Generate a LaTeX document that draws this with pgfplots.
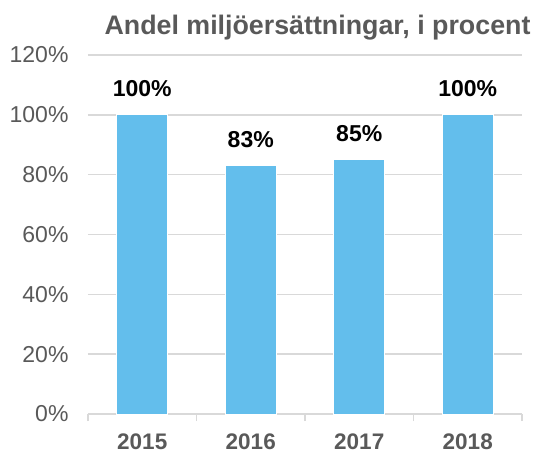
\documentclass[border=0pt]{standalone}
\usepackage{fontspec}
\setmainfont{Liberation Sans}
\usepackage{pgfplots}
\pgfplotsset{compat=1.18}
\definecolor{barblue}{RGB}{99,190,236}
\definecolor{txtgray}{RGB}{89,89,89}
\definecolor{gridgray}{RGB}{217,217,217}
\begin{document}
\begin{tikzpicture}[x=1pt,y=1pt]
\path[use as bounding box] (0,0) rectangle (535,456);
\node[font=\fontsize{26.8}{30}\selectfont\bfseries, text=txtgray] at (317.5,428) {Andel miljöersättningar, i procent};
\begin{axis}[
  at={(88pt,42pt)}, anchor=south west,
  scale only axis, width=434pt, height=359pt,
  xmin=-0.5, xmax=3.5, ymin=0, ymax=120,
  axis x line*=bottom, axis y line*=left,
  y axis line style={draw=none},
  x axis line style={draw=gridgray, line width=1.5pt},
  xtick={0,1,2,3}, xticklabels={2015,2016,2017,2018},
  minor xtick={-0.5,0.5,1.5,2.5,3.5},
  major tick length=0pt,
  minor tick length=7pt,
  tick align=outside,
  minor tick style={draw=gridgray, line width=1.5pt},
  ytick={0,20,...,120},
  yticklabel={\pgfmathprintnumber{\tick}\%},
  ytick style={draw=none},
  ymajorgrids, grid style={draw=gridgray, line width=1.5pt},
  yticklabel style={font=\fontsize{23}{26}\selectfont, text=txtgray, xshift=-16pt},
  xticklabel style={font=\fontsize{22.5}{26}\selectfont\bfseries, text=txtgray, yshift=-16pt},
  /pgf/number format/assume math mode=true,
  ybar, bar width=51pt,
  nodes near coords={\pgfmathprintnumber{\pgfplotspointmeta}\%},
  nodes near coords style={font=\fontsize{23}{26}\selectfont\bfseries, text=black, yshift=14pt},
]
\addplot[fill=barblue, draw=white, line width=1pt] coordinates {(0,100) (1,83) (2,85) (3,100)};
\end{axis}
\end{tikzpicture}
\end{document}
